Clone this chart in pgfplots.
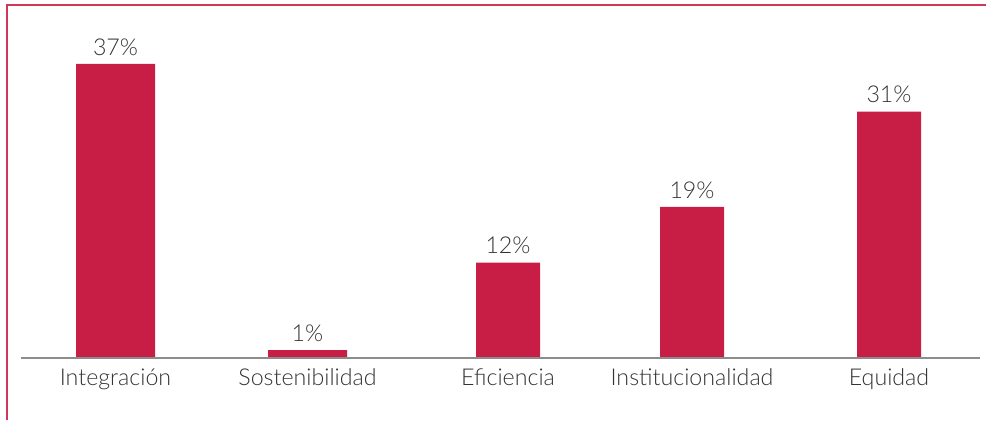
\documentclass[border=0pt]{standalone}
\usepackage{fontspec}
\setmainfont{Lato Light}
\usepackage{pgfplots}
\pgfplotsset{compat=1.18}
\definecolor{barc}{HTML}{C81E45}
\definecolor{framec}{HTML}{D0385A}
\definecolor{textc}{HTML}{333333}
\definecolor{basec}{HTML}{8C8C8C}
\begin{document}
\begin{tikzpicture}
\begin{axis}[
  scale only axis, width=493pt, height=179pt,
  xmin=0, xmax=986, ymin=0, ymax=45.03,
  axis y line=none, axis x line*=bottom,
  x axis line style={draw=none},
  xtick={115.5,307.5,508,692,889},
  xticklabels={Integración,Sostenibilidad,Eficiencia,Institucionalidad,Equidad},
  major tick length=0pt, ytick=\empty,
  clip=false,
  ybar, bar shift=0pt,
  nodes near coords={\pgfmathprintnumber{\pgfplotspointmeta}\%},
  every node near coord/.append style={font=\fontsize{11.6}{14}\selectfont, text=textc, inner sep=2pt, yshift=2pt},
  tick label style={font=\fontsize{11.6}{14}\selectfont, text=textc, yshift=-2pt},
  /pgf/number format/assume math mode=true,
]
\addplot[fill=barc, draw=none, bar width=39.5pt] coordinates {(115.5,37) (307.5,1)};
\addplot[fill=barc, draw=none, bar width=32pt] coordinates {(508,12) (692,19) (889,31)};
\draw[basec, line width=0.6pt] (axis cs:21,0) -- (axis cs:980,0);
\draw[framec, line width=1pt] (axis cs:7,-7.80) -- (axis cs:7,44.4) -- (axis cs:986,44.4);
\coordinate (bl) at (axis cs:0,-7.80);
\coordinate (tr) at (axis cs:986,45.03);
\end{axis}
\pgfresetboundingbox
\path (bl) rectangle (tr);
\end{tikzpicture}
\end{document}
